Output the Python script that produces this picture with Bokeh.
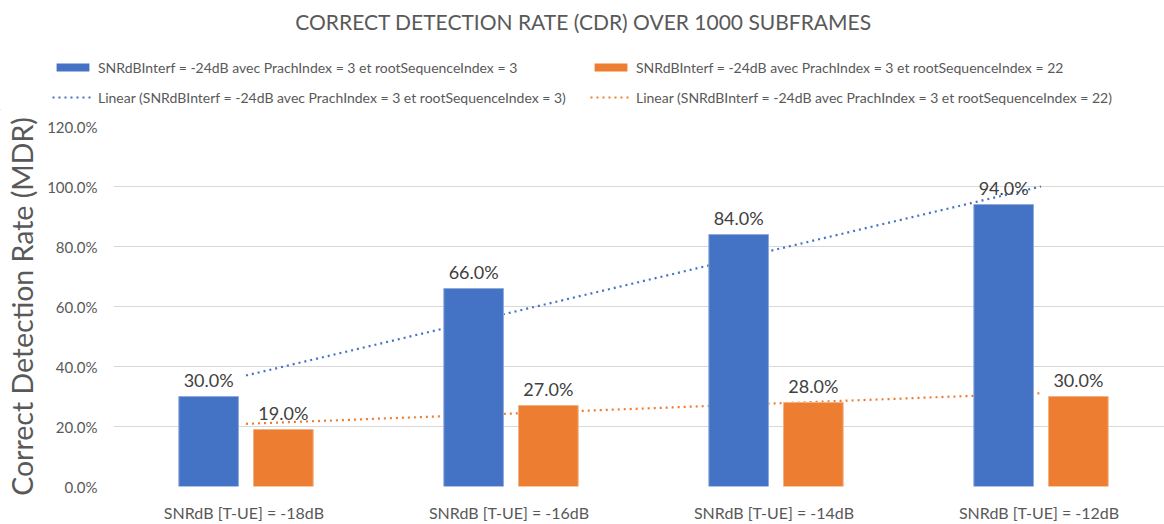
import numpy as np
from bokeh.plotting import figure
from bokeh.models import (Range1d, FixedTicker, NumeralTickFormatter, Label,
                          Legend, LegendItem, ColumnDataSource)
from bokeh.embed import file_html
from bokeh.resources import INLINE

categories = ["SNRdB [T-UE]  = -18dB", "SNRdB [T-UE]  = -16dB",
              "SNRdB [T-UE]  = -14dB", "SNRdB [T-UE]  = -12dB"]
series_names = ["SNRdBInterf = -24dB avec PrachIndex = 3 et rootSequenceIndex = 3",
                "SNRdBInterf = -24dB avec PrachIndex = 3 et rootSequenceIndex = 22"]
root3 = [0.30, 0.66, 0.84, 0.94]
root22 = [0.19, 0.27, 0.28, 0.30]
y_ticks = [0.0, 0.2, 0.4, 0.6, 0.8, 1.0, 1.2]
title_text = "CORRECT DETECTION RATE (CDR) OVER 1000 SUBFRAMES"
y_label = "Correct Detection Rate (MDR)"

BLUE = "#4472C4"
ORANGE = "#ED7D31"
GREY = "#595959"
FONT = "Lato"
W = 1164
TOP_H = 110
MAIN_H = 414

# ---------------- header figure: title + legend ----------------
h = figure(width=W, height=TOP_H, output_backend="svg", toolbar_location=None,
           x_range=Range1d(0, W), y_range=Range1d(0, TOP_H),
           x_axis_type=None, y_axis_type=None,
           min_border_left=0, min_border_right=0, min_border_top=0,
           min_border_bottom=0)
h.outline_line_color = None
h.grid.grid_line_color = None

h.add_layout(Label(x=583, y=TOP_H - 21, text=title_text, text_align="center",
                   text_baseline="middle", text_font=FONT,
                   text_font_size="21px", text_color=GREY))

# legend swatch renderers (placed outside the visible range)
d1 = h.vbar(x=[-500], top=[1], width=1, fill_color=BLUE, line_color=None)
d2 = h.vbar(x=[-500], top=[1], width=1, fill_color=ORANGE, line_color=None)
d3 = h.line(x=[-500, -499], y=[1, 1], line_color=BLUE, line_width=2.2, line_dash="2 4")
d4 = h.line(x=[-500, -499], y=[1, 1], line_color=ORANGE, line_width=2.2, line_dash="2 4")


def mk_legend(items, x):
    return Legend(items=items, location=(x, TOP_H - 107), orientation="vertical",
                  padding=0, margin=0, spacing=10, label_height=20,
                  glyph_height=10, glyph_width=41, label_standoff=5,
                  label_text_font=FONT, label_text_font_size="14px",
                  label_text_color=GREY, border_line_color=None,
                  background_fill_alpha=0)


h.add_layout(mk_legend([LegendItem(label=series_names[0], renderers=[d1]),
                        LegendItem(label="Linear (" + series_names[0] + ")", renderers=[d3])], 52))
h.add_layout(mk_legend([LegendItem(label=series_names[1], renderers=[d2]),
                        LegendItem(label="Linear (" + series_names[1] + ")", renderers=[d4])], 590))

# ---------------- main chart ----------------
xs = np.arange(1, len(categories) + 1)
off = 0.141
bw = 0.225

p = figure(width=W, height=MAIN_H, output_backend="svg", toolbar_location=None,
           x_range=Range1d(0.5, 4.466), y_range=Range1d(0, 1.2),
           min_border_left=113, min_border_right=0, min_border_top=16,
           min_border_bottom=35)
p.outline_line_color = None

src1 = ColumnDataSource(dict(x=xs - off, top=root3, lbl=[f"{v*100:.1f}%" for v in root3]))
src2 = ColumnDataSource(dict(x=xs + off, top=root22, lbl=[f"{v*100:.1f}%" for v in root22]))

# linear trend lines (least squares fit of each series), drawn behind the bars
k1 = np.polyfit(xs, root3, 1)
k2 = np.polyfit(xs, root22, 1)
xl = np.array([xs[0], xs[-1]], dtype=float)
p.line(xl, np.polyval(k1, xl), line_color=BLUE, line_width=2.2, line_dash="2 4")
p.line(xl, np.polyval(k2, xl), line_color=ORANGE, line_width=2.2, line_dash="2 4")

p.vbar(x="x", top="top", width=bw, source=src1, fill_color=BLUE,
       line_color="#8FAADC", line_width=1)
p.vbar(x="x", top="top", width=bw, source=src2, fill_color=ORANGE,
       line_color="#F4B183", line_width=1)

for src in (src1, src2):
    p.text(x="x", y="top", text="lbl", source=src, text_align="center",
           text_baseline="alphabetic", y_offset=-17, text_font_size="18px",
           text_color="#404040", text_font={"value": FONT})

p.xaxis.axis_label = None
p.xaxis.ticker = FixedTicker(ticks=list(xs))
p.xaxis.major_label_overrides = {int(i): c for i, c in zip(xs, categories)}
p.xaxis.axis_line_color = None
p.xaxis.major_tick_line_color = None
p.xaxis.major_tick_out = 0
p.xaxis.major_tick_in = 0
p.xaxis.minor_tick_line_color = None
p.xaxis.major_label_text_font = FONT
p.xaxis.major_label_text_font_size = "16px"
p.xaxis.major_label_text_color = GREY
p.xaxis.major_label_standoff = 16
p.xgrid.grid_line_color = None

p.yaxis.ticker = FixedTicker(ticks=y_ticks)
p.yaxis.formatter = NumeralTickFormatter(format="0.0%")
p.yaxis.axis_line_color = None
p.yaxis.major_tick_line_color = None
p.yaxis.major_tick_out = 0
p.yaxis.major_tick_in = 0
p.yaxis.minor_tick_line_color = None
p.yaxis.major_label_text_font = FONT
p.yaxis.major_label_text_font_size = "15px"
p.yaxis.major_label_text_color = GREY
p.yaxis.major_label_standoff = 16
p.yaxis.axis_label = y_label
p.yaxis.axis_label_text_font = FONT
p.yaxis.axis_label_text_font_size = "28.5px"
p.yaxis.axis_label_text_font_style = "normal"
p.yaxis.axis_label_text_color = GREY
p.yaxis.axis_label_standoff = 5
p.ygrid.grid_line_color = "#D9D9D9"
p.ygrid.grid_line_width = 1

open("out.html", "w").write(file_html([h, p], INLINE))
